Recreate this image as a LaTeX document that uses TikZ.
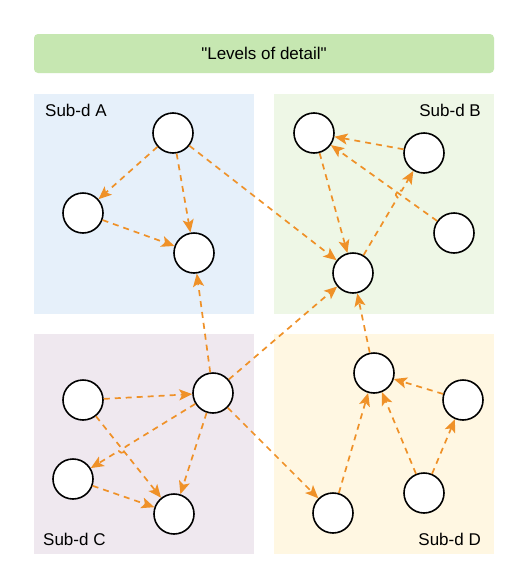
\documentclass[tikz,border=0pt]{standalone}
\usepackage{fontspec}
\setmainfont{Liberation Sans}[Ligatures=TeXOff]
\usetikzlibrary{arrows.meta,calc,intersections}
\definecolor{titlefill}{HTML}{C6E7B1}
\definecolor{afill}{HTML}{E6F0FA}
\definecolor{bfill}{HTML}{EEF7E6}
\definecolor{cfill}{HTML}{EFE8EF}
\definecolor{dfill}{HTML}{FFF7E2}
\definecolor{edgecol}{HTML}{EF9128}
\tikzset{
  vert/.style={circle,draw=black,line width=1.6pt,fill=white,minimum size=40pt,inner sep=0pt},
  edge/.style={draw=edgecol,line width=1.7pt,dash pattern=on 6pt off 5pt,
    -{Stealth[length=13pt,width=11pt,inset=3pt]}},
  panel/.style={draw=none},
  lbl/.style={font=\fontsize{17}{20}\selectfont,inner sep=0pt}
}
\begin{document}
\begin{tikzpicture}[x=1pt,y=-1pt]
\useasboundingbox (0,0) rectangle (523,584);
\fill[white] (0,0) rectangle (523,584);
% title
\node[draw=none,fill=titlefill,rounded corners=4pt,minimum width=460pt,minimum height=39pt,inner sep=0pt] (title) at (264,53.5) {};
\node[lbl] (titletext) at (264,53) {"Levels of detail"};
% panels
\node[panel,fill=afill,minimum width=220pt,minimum height=220pt,inner sep=0pt] (pA) at (144,204) {};
\node[panel,fill=bfill,minimum width=220pt,minimum height=220pt,inner sep=0pt] (pB) at (384,204) {};
\node[panel,fill=cfill,minimum width=220pt,minimum height=220pt,inner sep=0pt] (pC) at (144,444) {};
\node[panel,fill=dfill,minimum width=220pt,minimum height=220pt,inner sep=0pt] (pD) at (384,444) {};
\node[lbl,anchor=west] (lA) at (45,110) {Sub-d A};
\node[lbl,anchor=east] (lB) at (481,110) {Sub-d B};
\node[lbl,anchor=west] (lC) at (43,539) {Sub-d C};
\node[lbl,anchor=east] (lD) at (481,539) {Sub-d D};
% vertices
\node[vert] (A1) at (173,133) {};
\node[vert] (A2) at (83,213) {};
\node[vert] (A3) at (194,253) {};
\node[vert] (B1) at (314,133) {};
\node[vert] (B2) at (424,153) {};
\node[vert] (B3) at (454,233) {};
\node[vert] (B4) at (353,273) {};
\node[vert] (C1) at (83,400) {};
\node[vert] (C2) at (213,393) {};
\node[vert] (C3) at (73,479) {};
\node[vert] (C4) at (174,514) {};
\node[vert] (D1) at (374,373) {};
\node[vert] (D2) at (463,400) {};
\node[vert] (D3) at (424,493) {};
\node[vert] (D4) at (333,513) {};
% helper paths for line hops
\path[name path=pb1] (B4.center) -- (B2.center);
\path[name path=pb2] (B3.center) -- (B1.center);
\path[name intersections={of=pb1 and pb2,by=hopB}];
\path[name path=pc1] (C2.center) -- (C3.center);
\path[name path=pc2] (C1.center) -- (C4.center);
\path[name intersections={of=pc1 and pc2,by=hopC}];
\coordinate (hB1) at ($(hopB)!4pt!(B4)$);
\coordinate (hB2) at ($(hopB)!4pt!(B2)$);
\coordinate (hC1) at ($(hopC)!4pt!(C2)$);
\coordinate (hC2) at ($(hopC)!4pt!(C3)$);
% edges
\draw[edge] (A1) -- (A2);
\draw[edge] (A1) -- (A3);
\draw[edge] (A2) -- (A3);
\draw[edge] (A1) -- (B4);
\draw[edge] (C2) -- (A3);
\draw[edge] (B1) -- (B4);
\draw[edge] (B2) -- (B1);
\draw[edge] (B3) -- (B1);
\draw[edge] (B4) -- (hB1) to[bend left=90,looseness=1.6] (hB2) -- (B2);
\draw[edge] (C2) -- (B4);
\draw[edge] (D1) -- (B4);
\draw[edge] (C1) -- (C2);
\draw[edge] (C1) -- (C4);
\draw[edge] (C2) -- (hC1) to[bend left=90,looseness=1.6] (hC2) -- (C3);
\draw[edge] (C2) -- (C4);
\draw[edge] (C3) -- (C4);
\draw[edge] (C2) -- (D4);
\draw[edge] (D4) -- (D1);
\draw[edge] (D3) -- (D1);
\draw[edge] (D3) -- (D2);
\draw[edge] (D2) -- (D1);
\end{tikzpicture}
\end{document}
